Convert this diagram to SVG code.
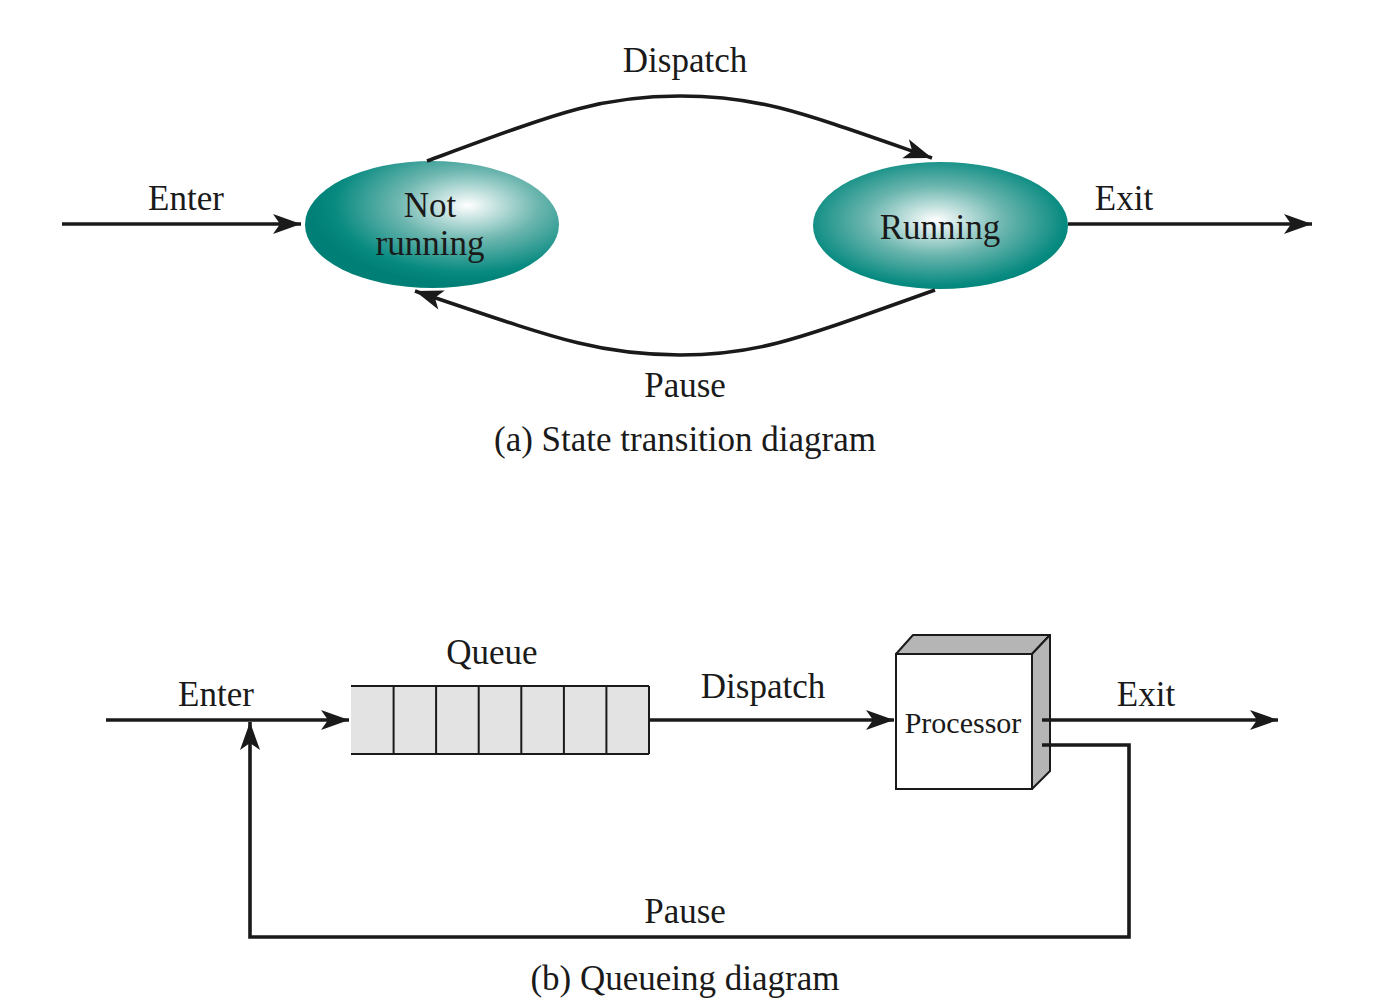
<svg xmlns="http://www.w3.org/2000/svg" width="1390" height="1000" viewBox="0 0 1390 1000">
<style>
text{font-family:"Liberation Serif","Times New Roman",serif;fill:#1a1a1a;}
.lbl{font-size:35px;}
.cap{font-size:35px;}
.line{fill:none;stroke:#1a1a1a;stroke-width:3.6;}
.thin{stroke:#1a1a1a;stroke-width:2;}
</style>
<defs>
<marker id="ah" markerUnits="userSpaceOnUse" markerWidth="32" markerHeight="24" viewBox="-30 -12 32 24" refX="0" refY="0" orient="auto">
<path d="M0,0 L-28,-10 L-21,0 L-28,10 Z" fill="#1a1a1a"/>
</marker>
<radialGradient id="g1" cx="0.64" cy="0.35" r="0.62">
<stop offset="0" stop-color="#ffffff"/>
<stop offset="0.45" stop-color="#6cb6af"/>
<stop offset="0.85" stop-color="#078a80"/>
<stop offset="1" stop-color="#007f76"/>
</radialGradient>
<radialGradient id="g2" cx="0.48" cy="0.46" r="0.6">
<stop offset="0" stop-color="#ffffff"/>
<stop offset="0.45" stop-color="#6cb6af"/>
<stop offset="0.85" stop-color="#078a80"/>
<stop offset="1" stop-color="#007f76"/>
</radialGradient>
</defs>

<g id="not-running">
<ellipse cx="432" cy="224.5" rx="127" ry="63.5" fill="url(#g1)"/>
<text class="lbl" x="430" y="217" text-anchor="middle">Not</text>
<text class="lbl" x="430" y="255" text-anchor="middle">running</text>
</g>
<g id="running">
<ellipse cx="940.5" cy="225.5" rx="127.5" ry="63.5" fill="url(#g2)"/>
<text class="lbl" x="940" y="239" text-anchor="middle">Running</text>
</g>

<g id="labels-a">
<text class="lbl" x="685" y="72" text-anchor="middle">Dispatch</text>
<text class="lbl" x="186" y="210" text-anchor="middle">Enter</text>
<text class="lbl" x="1124" y="210" text-anchor="middle">Exit</text>
<text class="lbl" x="685" y="397" text-anchor="middle">Pause</text>
<text class="cap" x="685" y="451" text-anchor="middle">(a) State transition diagram</text>
</g>

<g id="queue">
<rect x="351" y="686" width="298" height="68" fill="#e3e3e3"/>
<line class="thin" x1="351" y1="686" x2="649" y2="686"/>
<line class="thin" x1="351" y1="754" x2="649" y2="754"/>
<line class="thin" x1="393.6" y1="686" x2="393.6" y2="754"/>
<line class="thin" x1="436.1" y1="686" x2="436.1" y2="754"/>
<line class="thin" x1="478.7" y1="686" x2="478.7" y2="754"/>
<line class="thin" x1="521.3" y1="686" x2="521.3" y2="754"/>
<line class="thin" x1="563.9" y1="686" x2="563.9" y2="754"/>
<line class="thin" x1="606.4" y1="686" x2="606.4" y2="754"/>
<line class="thin" x1="649" y1="686" x2="649" y2="754"/>
<text class="lbl" x="492" y="664" text-anchor="middle">Queue</text>
</g>

<g id="processor">
<path d="M896,654 L913,635 L1050,635 L1032,654 Z" fill="#b5b5b5" stroke="#1a1a1a" stroke-width="2" stroke-linejoin="round"/>
<path d="M1032,654 L1050,635 L1050,771 L1032,789 Z" fill="#b5b5b5" stroke="#1a1a1a" stroke-width="2" stroke-linejoin="round"/>
<rect x="896" y="654" width="136" height="135" fill="#ffffff" stroke="#1a1a1a" stroke-width="2"/>
<text x="963" y="733" text-anchor="middle" style="font-size:30px">Processor</text>
</g>

<g id="labels-b">
<text class="lbl" x="216" y="706" text-anchor="middle">Enter</text>
<text class="lbl" x="763" y="698" text-anchor="middle">Dispatch</text>
<text class="lbl" x="1146" y="706" text-anchor="middle">Exit</text>
<text class="lbl" x="685" y="923" text-anchor="middle">Pause</text>
<text class="cap" x="685" y="990" text-anchor="middle">(b) Queueing diagram</text>
</g>

<g id="connectors">
<line class="line" x1="62" y1="224" x2="301" y2="224" marker-end="url(#ah)"/>
<line class="line" x1="1068" y1="224" x2="1312" y2="224" marker-end="url(#ah)"/>
<path class="line" d="M427,161 C560,112 600,96 680,96 C760,96 800,112 932,158" marker-end="url(#ah)"/>
<path class="line" d="M935,290 C800,338 760,355 680,355 C600,355 560,340 415,291" marker-end="url(#ah)"/>
<line class="line" x1="106" y1="720" x2="349" y2="720" marker-end="url(#ah)"/>
<line class="line" x1="649" y1="720" x2="894" y2="720" marker-end="url(#ah)"/>
<line class="line" x1="1042" y1="720" x2="1278" y2="720" marker-end="url(#ah)"/>
<path class="line" d="M1042,745 H1129 V937 H250 V722" marker-end="url(#ah)"/>
</g>
</svg>
